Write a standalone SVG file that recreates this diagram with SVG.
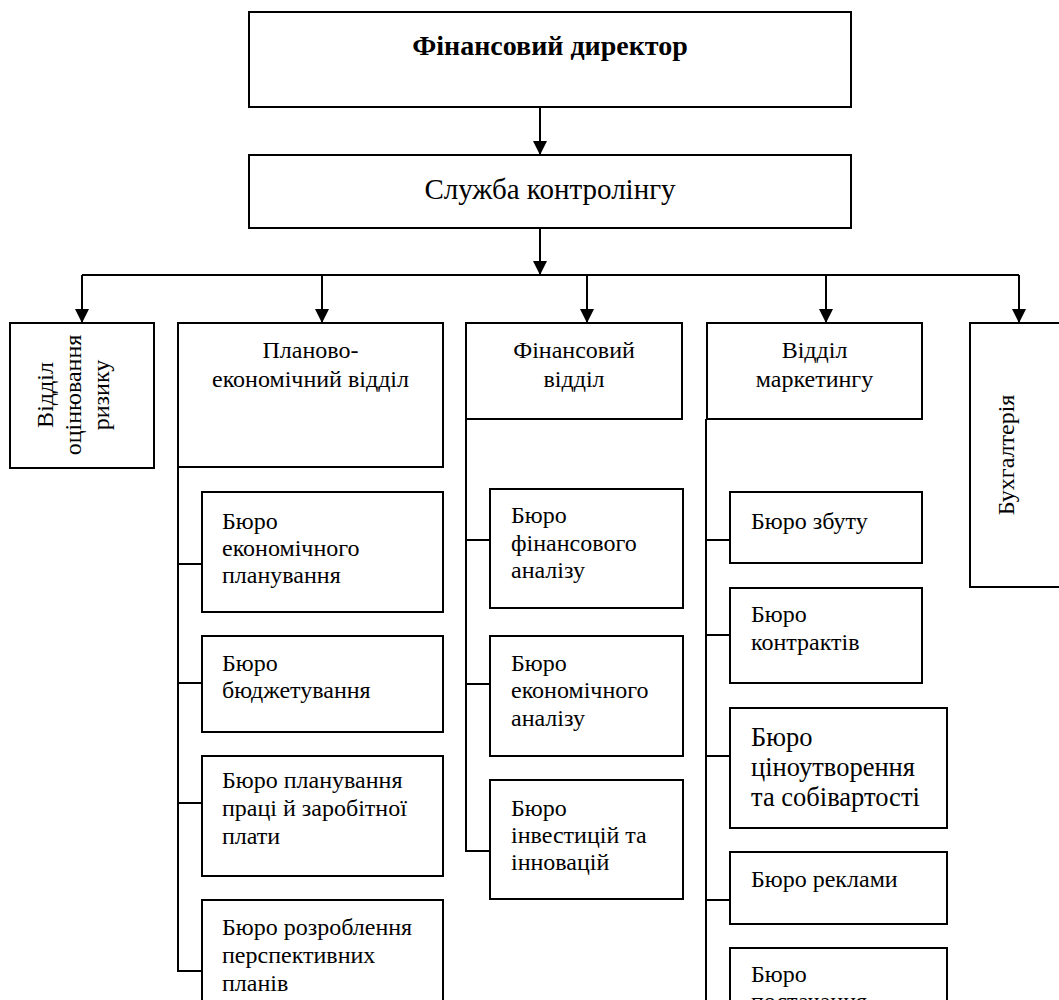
<svg xmlns="http://www.w3.org/2000/svg" width="1059" height="1000" viewBox="0 0 1059 1000" font-family="Liberation Serif, serif" font-size="24">
<defs>
<marker id="ah" viewBox="0 0 14 14" refX="14" refY="7" markerWidth="14" markerHeight="14" markerUnits="userSpaceOnUse" orient="auto">
<path d="M0,0 L14,7 L0,14 Z" fill="#000"/>
</marker>
<style>
rect{fill:#fff;stroke:#000;stroke-width:2}
.c line{stroke:#000;stroke-width:2;fill:none}
.a{marker-end:url(#ah)}
.m{text-anchor:middle}
.t{font-size:29px}
.b{font-weight:bold;font-size:28px}
.l{font-size:26.5px}
</style>
</defs>
<rect x="0" y="0" width="1059" height="1000" style="stroke:none"/>
<g class="c" id="connectors">
<line class="a" x1="540" y1="107" x2="540" y2="155"/>
<line class="a" x1="540" y1="228" x2="540" y2="275"/>
<line x1="82" y1="275" x2="1019" y2="275"/>
<line class="a" x1="82" y1="275" x2="82" y2="323"/>
<line class="a" x1="322" y1="275" x2="322" y2="323"/>
<line class="a" x1="587" y1="275" x2="587" y2="323"/>
<line class="a" x1="826" y1="275" x2="826" y2="323"/>
<line class="a" x1="1019" y1="275" x2="1019" y2="323"/>
<line x1="178" y1="467" x2="178" y2="972"/>
<line x1="177" y1="564" x2="202" y2="564"/>
<line x1="177" y1="683" x2="202" y2="683"/>
<line x1="177" y1="803" x2="202" y2="803"/>
<line x1="177" y1="971" x2="202" y2="971"/>
<line x1="466" y1="419" x2="466" y2="852"/>
<line x1="465" y1="540" x2="490" y2="540"/>
<line x1="465" y1="684" x2="490" y2="684"/>
<line x1="465" y1="851" x2="490" y2="851"/>
<line x1="706" y1="419" x2="706" y2="1000"/>
<line x1="705" y1="540" x2="730" y2="540"/>
<line x1="705" y1="635" x2="730" y2="635"/>
<line x1="705" y1="756" x2="730" y2="756"/>
<line x1="705" y1="900" x2="730" y2="900"/>
</g>
<g id="fin-director">
<rect x="249" y="12" width="602" height="95"/>
<text class="m b" x="550" y="55">Фінансовий директор</text>
</g>
<g id="controlling">
<rect x="249" y="155" width="602" height="73"/>
<text class="m t" x="550" y="199">Служба контролінгу</text>
</g>
<g id="risk">
<rect x="10" y="323" width="144" height="145"/>
<text class="m" transform="translate(53,395) rotate(-90)">Відділ</text>
<text class="m" transform="translate(81,395) rotate(-90)">оцінювання</text>
<text class="m" transform="translate(109,395) rotate(-90)">ризику</text>
</g>
<g id="plan-dept">
<rect x="178" y="323" width="265" height="144"/>
<text class="m" x="310.5" y="358">Планово-</text>
<text class="m" x="310.5" y="387">економічний відділ</text>
</g>
<g id="fin-dept">
<rect x="466" y="323" width="216" height="96"/>
<text class="m" x="574" y="358">Фінансовий</text>
<text class="m" x="574" y="387">відділ</text>
</g>
<g id="marketing-dept">
<rect x="707" y="323" width="215" height="96"/>
<text class="m" x="814.5" y="358">Відділ</text>
<text class="m" x="814.5" y="387">маркетингу</text>
</g>
<g id="accounting">
<rect x="970" y="323" width="100" height="264"/>
<text class="m" transform="translate(1014,455) rotate(-90)">Бухгалтерія</text>
</g>
<g id="p1">
<rect x="202" y="492" width="241" height="120"/>
<text x="222" y="529">Бюро</text>
<text x="222" y="556">економічного</text>
<text x="222" y="583">планування</text>
</g>
<g id="p2">
<rect x="202" y="636" width="241" height="96"/>
<text x="222" y="671">Бюро</text>
<text x="222" y="698">бюджетування</text>
</g>
<g id="p3">
<rect x="202" y="756" width="241" height="120"/>
<text x="222" y="788">Бюро планування</text>
<text x="222" y="816">праці й заробітної</text>
<text x="222" y="844">плати</text>
</g>
<g id="p4">
<rect x="202" y="900" width="241" height="120"/>
<text x="222" y="935">Бюро розроблення</text>
<text x="222" y="963">перспективних</text>
<text x="222" y="991">планів</text>
</g>
<g id="f1">
<rect x="490" y="489" width="193" height="119"/>
<text x="511" y="523">Бюро</text>
<text x="511" y="551">фінансового</text>
<text x="511" y="578">аналізу</text>
</g>
<g id="f2">
<rect x="490" y="636" width="193" height="120"/>
<text x="511" y="671">Бюро</text>
<text x="511" y="698">економічного</text>
<text x="511" y="726">аналізу</text>
</g>
<g id="f3">
<rect x="490" y="780" width="193" height="119"/>
<text x="511" y="816">Бюро</text>
<text x="511" y="843">інвестицій та</text>
<text x="511" y="870">інновацій</text>
</g>
<g id="m1">
<rect x="730" y="492" width="192" height="71"/>
<text x="751" y="529">Бюро збуту</text>
</g>
<g id="m2">
<rect x="730" y="588" width="192" height="95"/>
<text x="751" y="622">Бюро</text>
<text x="751" y="650">контрактів</text>
</g>
<g id="m3">
<rect x="730" y="708" width="217" height="120"/>
<text class="l" x="751" y="746">Бюро</text>
<text class="l" x="751" y="776">ціноутворення</text>
<text class="l" x="751" y="806">та собівартості</text>
</g>
<g id="m4">
<rect x="730" y="852" width="217" height="72"/>
<text x="751" y="887">Бюро реклами</text>
</g>
<g id="m5">
<rect x="730" y="948" width="217" height="100"/>
<text x="751" y="982">Бюро</text>
<text x="751" y="1009">постачання</text>
</g>
</svg>
